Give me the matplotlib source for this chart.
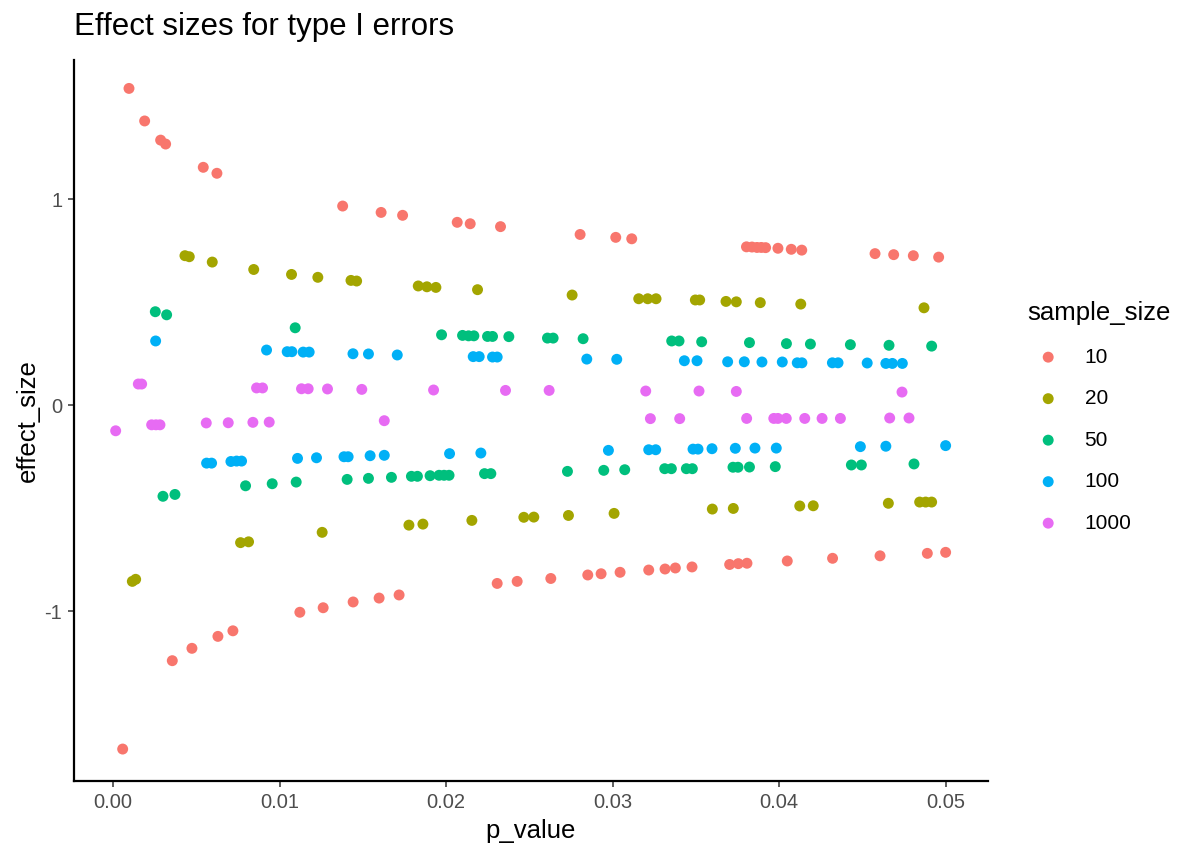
import matplotlib
matplotlib.use("Agg")
import matplotlib.pyplot as plt

plt.rcParams['font.family'] = ['Liberation Sans', 'DejaVu Sans']

# valores: p_value y effect_size por sample_size
sample_sizes = ['10', '20', '50', '100', '1000']
colors = ['#F8766D', '#A3A500', '#00BF7D', '#00B0F6', '#E76BF3']

p_10 = [0.00096, 0.0019, 0.00286, 0.00316, 0.00542, 0.00624, 0.01379, 0.0161, 0.01739,
        0.02067, 0.02145, 0.02327, 0.02805, 0.03019, 0.03115, 0.03804, 0.03837, 0.03867,
        0.03893, 0.03919, 0.03993, 0.04073, 0.04136, 0.04576, 0.04688, 0.04806, 0.04958,
        0.00058, 0.00356, 0.00474, 0.0063, 0.0072, 0.01122, 0.01262, 0.01442, 0.01598,
        0.01718, 0.02307, 0.02427, 0.02629, 0.02851, 0.02931, 0.03045, 0.03217, 0.03315,
        0.03377, 0.03477, 0.03703, 0.03755, 0.03807, 0.04049, 0.04321, 0.04606, 0.0489, 0.0500]
es_10 = [1.537, 1.379, 1.286, 1.267, 1.154, 1.125, 0.966, 0.935, 0.921,
         0.887, 0.880, 0.866, 0.828, 0.814, 0.807, 0.768, 0.767, 0.765,
         0.765, 0.764, 0.761, 0.756, 0.752, 0.735, 0.730, 0.725, 0.718,
         -1.670, -1.241, -1.181, -1.123, -1.096, -1.006, -0.984, -0.956, -0.937,
         -0.922, -0.866, -0.856, -0.842, -0.825, -0.819, -0.812, -0.801, -0.796,
         -0.791, -0.786, -0.774, -0.770, -0.768, -0.757, -0.744, -0.732, -0.720, -0.715]

p_20 = [0.00432, 0.00458, 0.00596, 0.00845, 0.01072, 0.0123, 0.01429, 0.01463, 0.01833,
        0.01885, 0.01939, 0.02189, 0.02757, 0.03157, 0.03211, 0.03261, 0.03497, 0.03523,
        0.03681, 0.03743, 0.03887, 0.0413, 0.0487,
        0.00116, 0.00136, 0.00766, 0.00814, 0.01256, 0.01777, 0.01861, 0.02155, 0.02467,
        0.02527, 0.02735, 0.03009, 0.03599, 0.03725, 0.04124, 0.04205, 0.04656, 0.04844,
        0.0488, 0.04916]
es_20 = [0.725, 0.720, 0.694, 0.658, 0.634, 0.620, 0.605, 0.602, 0.578,
         0.574, 0.571, 0.560, 0.534, 0.516, 0.516, 0.516, 0.510, 0.510,
         0.503, 0.501, 0.497, 0.490, 0.472,
         -0.856, -0.846, -0.668, -0.664, -0.618, -0.583, -0.578, -0.560, -0.545,
         -0.544, -0.536, -0.526, -0.505, -0.502, -0.490, -0.489, -0.477, -0.471,
         -0.471, -0.471]

p_50 = [0.00254, 0.00322, 0.01094, 0.01973, 0.02099, 0.02135, 0.02167, 0.02249, 0.02279,
        0.02377, 0.02609, 0.02643, 0.02823, 0.03355, 0.03399, 0.03535, 0.03822, 0.04044,
        0.04188, 0.04428, 0.0466, 0.04916,
        0.003, 0.00372, 0.00796, 0.00956, 0.011, 0.01406, 0.01534, 0.01672, 0.01792,
        0.01828, 0.01904, 0.01958, 0.01988, 0.02018, 0.02231, 0.02269, 0.02729, 0.02947,
        0.03073, 0.03313, 0.03353, 0.03443, 0.03479, 0.03723, 0.03753, 0.03822, 0.03977,
        0.04434, 0.04494, 0.0481]
es_50 = [0.453, 0.438, 0.375, 0.341, 0.338, 0.336, 0.336, 0.333, 0.333,
         0.332, 0.325, 0.325, 0.322, 0.311, 0.311, 0.307, 0.303, 0.298,
         0.296, 0.293, 0.290, 0.286,
         -0.443, -0.434, -0.392, -0.382, -0.374, -0.361, -0.356, -0.351, -0.346,
         -0.346, -0.343, -0.341, -0.341, -0.341, -0.333, -0.333, -0.322, -0.317,
         -0.314, -0.309, -0.309, -0.309, -0.309, -0.302, -0.302, -0.301, -0.299,
         -0.291, -0.291, -0.286]

p_100 = [0.00256, 0.00922, 0.01046, 0.01074, 0.01142, 0.01178, 0.01441, 0.01534, 0.01707,
         0.02163, 0.02199, 0.02279, 0.02307, 0.02845, 0.03025, 0.03431, 0.03507, 0.03691,
         0.03791, 0.03897, 0.04019, 0.04109, 0.04137, 0.0432, 0.04354, 0.04529, 0.04641,
         0.0468, 0.0474,
         0.00562, 0.00592, 0.00708, 0.00742, 0.00772, 0.01108, 0.01222, 0.01387, 0.01412,
         0.01544, 0.01629, 0.02021, 0.02209, 0.02975, 0.03217, 0.03259, 0.03483, 0.03513,
         0.03597, 0.03737, 0.03855, 0.03983, 0.04488, 0.04641, 0.0500]
es_100 = [0.311, 0.267, 0.259, 0.259, 0.257, 0.257, 0.249, 0.248, 0.243,
          0.235, 0.235, 0.233, 0.233, 0.223, 0.222, 0.215, 0.215, 0.210,
          0.210, 0.209, 0.209, 0.205, 0.205, 0.205, 0.205, 0.204, 0.202,
          0.202, 0.202,
          -0.282, -0.282, -0.274, -0.272, -0.272, -0.259, -0.256, -0.251, -0.251,
          -0.246, -0.244, -0.236, -0.233, -0.220, -0.217, -0.217, -0.214, -0.214,
          -0.212, -0.210, -0.209, -0.209, -0.202, -0.200, -0.197]

p_1000 = [0.00152, 0.00172, 0.00862, 0.00898, 0.01132, 0.01172, 0.01288, 0.01494, 0.01925,
          0.02357, 0.02619, 0.03199, 0.03519, 0.03743, 0.04738,
          0.00016, 0.00232, 0.00258, 0.00282, 0.0056, 0.00692, 0.0084, 0.00938, 0.01629,
          0.03227, 0.03403, 0.03805, 0.03968, 0.03993, 0.04043, 0.04154, 0.04258, 0.04368,
          0.04664, 0.0478]
es_1000 = [0.102, 0.102, 0.083, 0.083, 0.079, 0.079, 0.078, 0.076, 0.073,
           0.071, 0.071, 0.068, 0.068, 0.066, 0.063,
           -0.125, -0.096, -0.096, -0.096, -0.087, -0.086, -0.084, -0.083, -0.076,
           -0.066, -0.066, -0.065, -0.065, -0.065, -0.065, -0.065, -0.065, -0.065,
           -0.063, -0.063]

p_values = [p_10, p_20, p_50, p_100, p_1000]
effect_sizes = [es_10, es_20, es_50, es_100, es_1000]

fig = plt.figure(figsize=(12, 8.57), dpi=100)
ax = fig.add_axes([0.0617, 0.0887, 0.7613, 0.8413])

for lab, col, xs, ys in zip(sample_sizes, colors, p_values, effect_sizes):
    ax.scatter(xs, ys, s=62, color=col, edgecolors='none', label=lab)

ax.set_xlim(-0.00234, 0.05252)
ax.set_ylim(-1.825, 1.675)
ax.set_xticks([0.00, 0.01, 0.02, 0.03, 0.04, 0.05])
ax.set_xticklabels(['0.00', '0.01', '0.02', '0.03', '0.04', '0.05'])
ax.set_yticks([-1, 0, 1])
ax.set_yticklabels(['-1', '0', '1'])

for side in ['top', 'right']:
    ax.spines[side].set_visible(False)
for side in ['left', 'bottom']:
    ax.spines[side].set_linewidth(1.6)
    ax.spines[side].set_color('black')
ax.tick_params(axis='both', colors='#333333', labelcolor='#4D4D4D', labelsize=14.5,
               length=4.5, width=1.1, pad=4)

ax.set_xlabel('p_value', fontsize=18.5, color='black', labelpad=5)
ax.set_ylabel('effect_size', fontsize=18.5, color='black', labelpad=3)
ax.set_title('Effect sizes for type I errors', fontsize=22.5, loc='left', x=0.0,
             pad=18, color='black')

leg = ax.legend(title='sample_size', loc='center left', bbox_to_anchor=(1.023, 0.505),
                frameon=False, fontsize=15, title_fontsize=18.5, labelspacing=1.08,
                handletextpad=0.75, markerscale=1.0)
leg._legend_box.align = 'left'

fig.savefig('out.png', dpi=100, facecolor='white')
